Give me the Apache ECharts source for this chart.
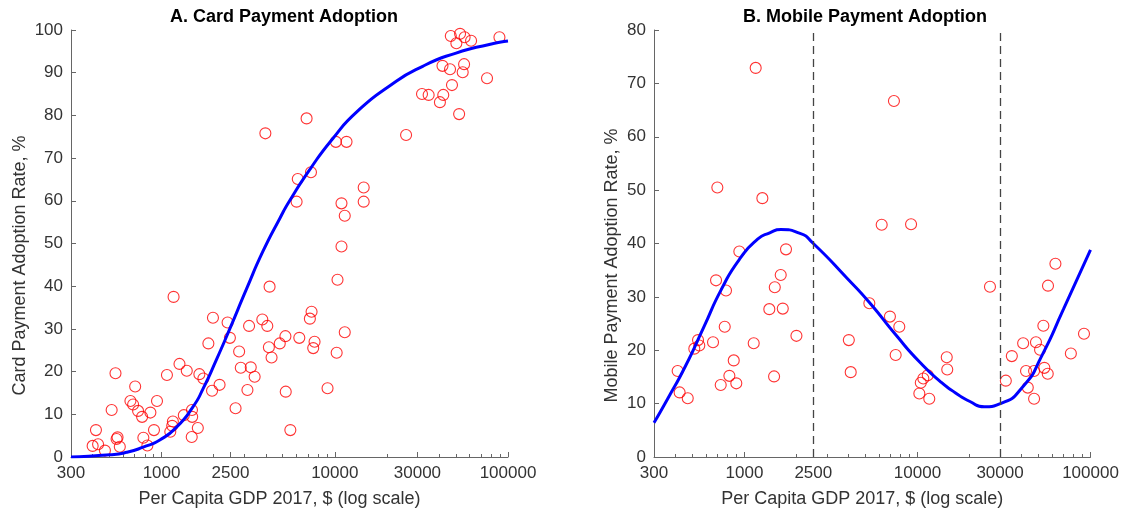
<!DOCTYPE html>
<html>
<head>
<meta charset="utf-8">
<title>Card and Mobile Payment Adoption</title>
<script src="https://cdn.jsdelivr.net/npm/echarts@6/dist/echarts.min.js"></script>
<style>
  html, body { margin: 0; padding: 0; background: #fff; }
  #chart { width: 1124px; height: 514px; }
</style>
</head>
<body>
<div id="chart"></div>
<script>
// A. card payment adoption: per capita GDP 2017 ($) and adoption rate (%), one pair per country
const cardGdp = [400, 430, 418, 471, 515, 542, 550, 557, 574, 661, 685, 704, 732, 772, 785, 828, 862, 904, 941,
  1074, 1123, 1152, 1162, 1173, 1269, 1344, 1398, 1498, 1502, 1493, 1619, 1653, 1743, 1863, 1956, 1980, 2162,
  2405, 2480, 2674, 2804, 2866, 3131, 3200, 3272, 3446, 3816, 3974, 4077, 4164, 4203, 4315, 4812, 5188, 5210,
  5539, 6019, 6115, 6240, 6874, 7181, 7344, 7286, 7507, 7642, 9082, 10146, 10253, 10369, 10932, 10932, 11417,
  11417, 11689, 14686, 14686, 25800, 31880, 34820, 40450, 41860, 42290, 46270, 47490, 46750, 50340, 52220,
  52870, 56160, 55780, 54760, 61210, 75660, 89240];
const cardRate = [2.6, 3.0, 6.3, 1.5, 11.0, 19.6, 4.2, 4.6, 2.4, 13.1, 12.3, 16.5, 10.8, 9.4, 4.5, 2.7, 10.4, 6.3, 13.1,
  19.2, 5.9, 7.3, 8.3, 37.5, 21.8, 9.8, 20.2, 11.0, 9.4, 4.7, 6.8, 19.4, 18.4, 26.6, 15.5, 32.6, 16.9,
  31.5, 27.9, 11.4, 24.7, 20.9, 15.7, 30.7, 21.0, 18.8, 32.2, 75.8, 30.7, 25.7, 39.9, 23.3, 26.6, 28.3, 15.3,
  6.3, 59.8, 65.1, 27.9, 79.3, 32.4, 34.0, 66.7, 25.5, 27.0, 16.1, 73.8, 24.4, 41.5, 59.4, 49.3, 56.5,
  29.2, 73.8, 63.1, 59.8, 75.4, 85.0, 84.8, 83.1, 91.6, 84.8, 90.8, 87.1, 98.6, 96.9, 80.3,
  99.1, 98.3, 92.0, 90.1, 97.5, 88.7, 98.3];
// fitted curve
const cardFitGdp = [300, 503, 629, 783, 977, 1220, 1521, 1737, 2074, 2476, 3090, 3851, 4806, 5487, 7222, 9748,
  13300, 20690, 32180, 50140, 77980, 100000];
const cardFitRate = [0, 0.5, 1.1, 2.3, 4.0, 7.0, 11.8, 16.0, 22.8, 30.0, 39.3, 48.2, 55.8, 60.0, 67.5, 74.6,
  80.7, 86.9, 91.5, 94.6, 96.6, 97.4];

// B. mobile payment adoption
const mobileGdp = [1161, 697, 1269, 934, 1738, 1620, 1497, 685, 782, 1392, 1665, 769, 1997, 4010, 658, 1131,
  539, 548, 513, 867, 818, 1483, 4112, 729, 897, 411, 422, 470, 7310, 6210, 9180, 26240, 5270, 6930, 7850,
  7480, 14760, 14860, 11460, 10810, 10450, 10250, 11700, 32400, 35100, 40800, 48400, 51100, 53400, 56800,
  62700, 42400, 47200, 54100, 56600, 43400, 47200, 77000, 91700];
const mobileRate = [72.9, 50.5, 48.5, 38.5, 38.9, 34.1, 31.8, 33.1, 31.2, 27.7, 27.8, 24.4, 22.7, 21.9, 21.5, 21.3,
  21.9, 20.9, 20.3, 18.1, 15.2, 15.1, 15.9, 13.5, 13.8, 16.1, 12.1, 11.0, 66.7, 43.5, 43.6, 31.9, 28.8, 26.3, 24.4,
  19.1, 18.7, 16.4, 15.3, 14.7, 13.9, 11.9, 10.9, 14.3, 18.9, 21.3, 21.5, 20.1, 24.6, 32.1,
  36.2, 16.1, 16.1, 16.7, 15.6, 13.0, 10.9, 19.4, 23.1];
const mobileFitGdp = [300, 360, 457, 581, 738, 938, 1191, 1400, 1626, 2094, 2500, 3942, 5260, 7530, 10290, 13710,
  16600, 20100, 24330, 30190, 41210, 52360, 69800, 100000];
const mobileFitRate = [6.4, 10.9, 17.1, 24.3, 31.5, 37.1, 40.8, 42.0, 42.6, 41.9, 40.0, 33.4, 29.0, 22.8, 17.8, 14.0,
  12.0, 10.4, 9.4, 10.0, 13.4, 19.0, 27.7, 38.8];
const mobileCutoffs = [2500, 30000];

const gdpTicks = [300, 1000, 2500, 10000, 30000, 100000];
const gdpMinorTicks = [400, 500, 600, 700, 800, 900, 2000, 3000, 4000, 5000, 6000, 7000, 8000, 9000,
  20000, 40000, 50000, 60000, 70000, 80000, 90000];

const FONT = 'Arial, "Liberation Sans", sans-serif';
const AXIS = '#666';
const TEXT = '#333';

function pairs(xs, ys) {
  return xs.map((x, i) => [x, ys[i]]);
}

function mainX(gridIndex) {
  return {
    type: 'log', logBase: 10, gridIndex: gridIndex, min: 300, max: 100000, position: 'bottom',
    name: 'Per Capita GDP 2017, $ (log scale)', nameLocation: 'middle', nameGap: 33,
    nameTextStyle: { fontSize: 18, color: TEXT, fontFamily: FONT, padding: [0, 20, 0, 0] },
    axisLine: { show: true, onZero: false, lineStyle: { color: AXIS, width: 1 } },
    axisTick: { show: true, inside: true, length: 5, customValues: gdpTicks, lineStyle: { color: AXIS } },
    axisLabel: { customValues: gdpTicks, formatter: v => String(Math.round(v)), fontSize: 17, color: TEXT, fontFamily: FONT, margin: 8 },
    splitLine: { show: false }
  };
}
function minorX(gridIndex) {
  return {
    type: 'log', logBase: 10, gridIndex: gridIndex, min: 300, max: 100000, position: 'bottom',
    axisLine: { show: false, onZero: false },
    axisTick: { show: true, inside: true, length: 3, customValues: gdpMinorTicks, lineStyle: { color: AXIS } },
    axisLabel: { show: false },
    splitLine: { show: false }
  };
}
function rateY(gridIndex, max, name, gap) {
  return {
    type: 'value', gridIndex: gridIndex, min: 0, max: max, interval: 10,
    name: name, nameLocation: 'middle', nameGap: gap,
    nameTextStyle: { fontSize: 18, color: TEXT, fontFamily: FONT, padding: [0, 44, 0, 0] },
    axisLine: { show: true, lineStyle: { color: AXIS, width: 1 } },
    axisTick: { show: true, inside: true, length: 5, lineStyle: { color: AXIS } },
    axisLabel: { fontSize: 17, color: TEXT, fontFamily: FONT, margin: 8 },
    splitLine: { show: false }
  };
}
function dots(xi, yi, data) {
  return {
    type: 'scatter', xAxisIndex: xi, yAxisIndex: yi, data: data, symbol: 'circle', symbolSize: 11,
    itemStyle: { color: 'rgba(0,0,0,0)', borderColor: '#ff0000', borderWidth: 1.1 }, z: 2
  };
}
function curve(xi, yi, data) {
  return {
    type: 'line', xAxisIndex: xi, yAxisIndex: yi, data: data, showSymbol: false, smooth: 0.6,
    lineStyle: { color: '#0000ff', width: 3 }, z: 3
  };
}

const chart = echarts.init(document.getElementById('chart'));
const bCurve = curve(2, 1, pairs(mobileFitGdp, mobileFitRate));
bCurve.markLine = {
  silent: true, symbol: 'none', label: { show: false },
  lineStyle: { color: '#444', type: [8, 5], width: 1.3 },
  data: mobileCutoffs.map(v => ({ xAxis: v }))
};

chart.setOption({
  animation: false,
  backgroundColor: '#fff',
  graphic: [
    { type: 'text', x: 284, y: 8, style: { text: 'A. Card Payment Adoption', font: 'bold 18px ' + FONT, fill: '#000', align: 'center' } },
    { type: 'text', x: 865, y: 8, style: { text: 'B. Mobile Payment Adoption', font: 'bold 18px ' + FONT, fill: '#000', align: 'center' } }
  ],
  grid: [
    { left: 71, top: 30, width: 437, height: 427, outerBoundsMode: 'none', containLabel: false },
    { left: 654, top: 30, width: 436.5, height: 427, outerBoundsMode: 'none', containLabel: false }
  ],
  xAxis: [mainX(0), minorX(0), mainX(1), minorX(1)],
  yAxis: [
    rateY(0, 100, 'Card Payment Adoption Rate, %', 42),
    rateY(1, 80, 'Mobile Payment Adoption Rate, %', 33)
  ],
  series: [
    dots(0, 0, pairs(cardGdp, cardRate)),
    curve(0, 0, pairs(cardFitGdp, cardFitRate)),
    dots(2, 1, pairs(mobileGdp, mobileRate)),
    bCurve
  ]
});
</script>
</body>
</html>
